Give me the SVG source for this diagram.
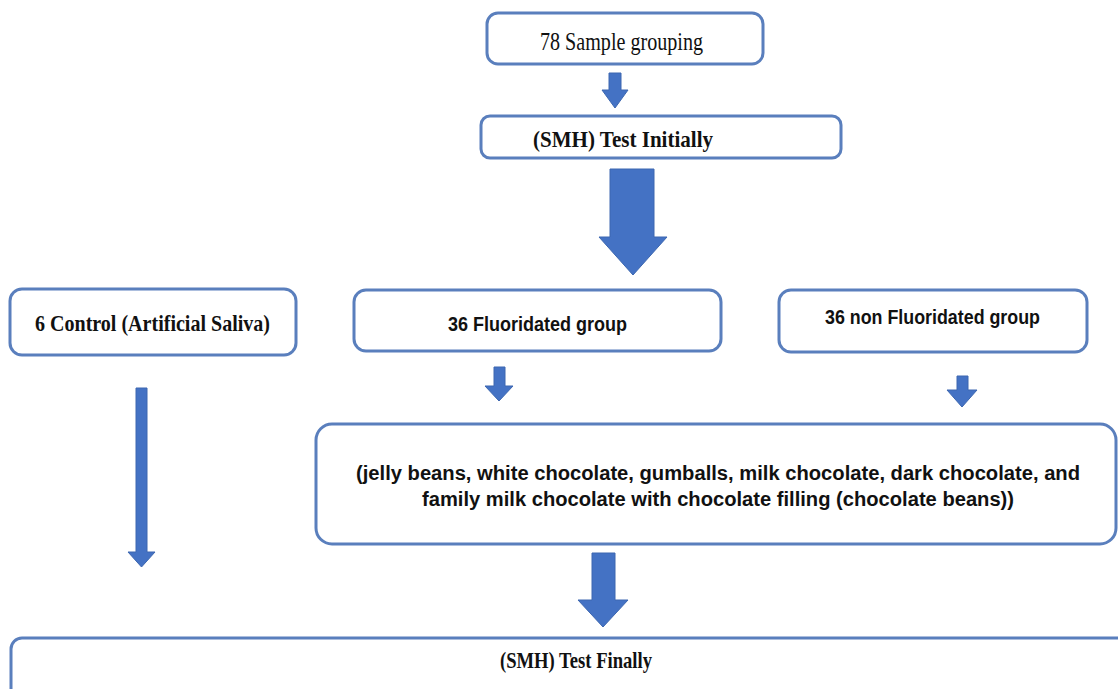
<svg xmlns="http://www.w3.org/2000/svg" width="1118" height="689" viewBox="0 0 1118 689">
<style>
.box{fill:#ffffff;stroke:#5a7fbd;stroke-width:3}
.arr{fill:#4472c4;stroke:#3d67b0;stroke-width:1}
.serif{font-family:"Liberation Serif","Times New Roman",serif;fill:#111}
.sans{font-family:"Liberation Sans",Arial,sans-serif;font-weight:bold;fill:#111}
.b{font-weight:bold}
</style>
<rect width="1118" height="689" fill="#ffffff"/>
<g id="connectors">
<polygon class="arr" points="609,73 621,73 621,90 628,90 615,108 602,90 609,90"/>
<polygon class="arr" points="610,169 654,169 654,237 667,237 633,275 599,237 610,237"/>
<polygon class="arr" points="136,388 147,388 147,552 155,552 141.5,567 128,552 136,552"/>
<polygon class="arr" points="494,367 505,367 505,386 513,386 499,401 485,386 494,386"/>
<polygon class="arr" points="957,376 968,376 968,390 977,390 962,407 947,390 957,390"/>
<polygon class="arr" points="592,553 615,553 615,600 628,600 603,627 578,600 592,600"/>
</g>
<g id="n1">
<rect class="box" x="487" y="13" width="276" height="51" rx="11"/>
<text class="serif" x="540" y="50" font-size="25" textLength="163" lengthAdjust="spacingAndGlyphs">78 Sample grouping</text>
</g>
<g id="n2">
<rect class="box" x="481" y="116" width="360" height="42" rx="9"/>
<text class="serif b" x="533" y="147" font-size="24" textLength="180" lengthAdjust="spacingAndGlyphs">(SMH) Test Initially</text>
</g>
<g id="n3">
<rect class="box" x="10" y="289" width="286" height="66" rx="12"/>
<text class="serif b" x="35" y="331" font-size="24" textLength="235" lengthAdjust="spacingAndGlyphs">6 Control (Artificial Saliva)</text>
</g>
<g id="n4">
<rect class="box" x="354" y="290" width="367" height="61" rx="12"/>
<text class="sans" x="448" y="331" font-size="21" textLength="179" lengthAdjust="spacingAndGlyphs">36 Fluoridated group</text>
</g>
<g id="n5">
<rect class="box" x="779" y="290" width="308" height="62" rx="12"/>
<text class="sans" x="825" y="324" font-size="21" textLength="215" lengthAdjust="spacingAndGlyphs">36 non Fluoridated group</text>
</g>
<g id="n6">
<rect class="box" x="316" y="424" width="800" height="120" rx="16"/>
<text class="sans" x="356" y="480" font-size="20" textLength="724" lengthAdjust="spacingAndGlyphs">(jelly beans, white chocolate, gumballs, milk chocolate, dark chocolate, and</text>
<text class="sans" x="422" y="506" font-size="20" textLength="592" lengthAdjust="spacingAndGlyphs">family milk chocolate with chocolate filling (chocolate beans))</text>
</g>
<g id="n7">
<rect class="box" x="11" y="638" width="1130" height="80" rx="11"/>
<text class="serif b" x="500" y="668" font-size="23" textLength="152" lengthAdjust="spacingAndGlyphs">(SMH) Test Finally</text>
</g>
</svg>
